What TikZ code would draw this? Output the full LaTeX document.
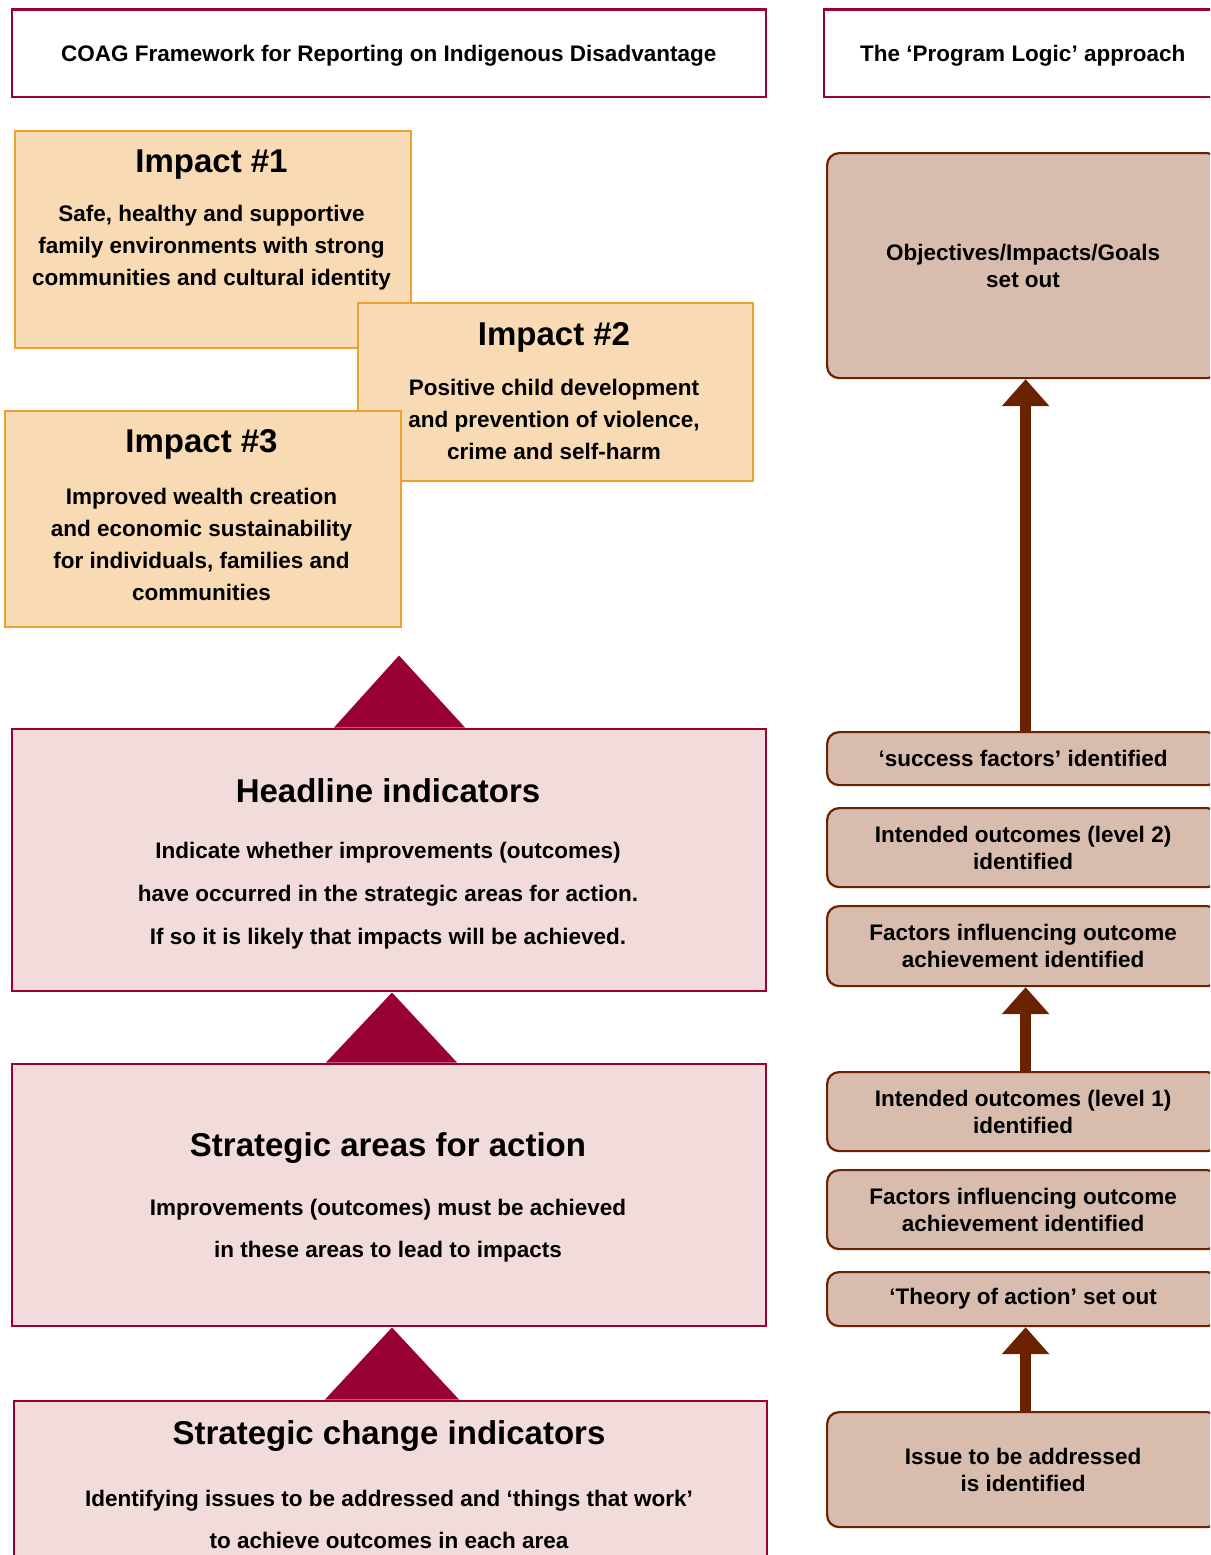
\documentclass[tikz,border=0pt]{standalone}
\usepackage{fontspec}
\setmainfont{Liberation Sans}
\usetikzlibrary{arrows.meta,calc}

\definecolor{crimson}{HTML}{990033}
\definecolor{pinkfill}{HTML}{F2DCDB}
\definecolor{peachfill}{HTML}{F8DBB4}
\definecolor{amberline}{HTML}{EEA030}
\definecolor{logicfill}{HTML}{D8BCAE}
\definecolor{umber}{HTML}{6B2200}

\newcommand{\txtsize}[1]{\fontsize{22.5}{#1}\selectfont\bfseries}
\newcommand{\ttlsize}{\fontsize{33}{38}\selectfont\bfseries}

\begin{document}
\begin{tikzpicture}[x=1pt,y=-1pt,
  header/.style={draw=crimson, line width=2.5pt, fill=white, inner sep=0pt,
    text depth=0pt, minimum height=87pt, anchor=north west, font=\txtsize{27}},
  impactbox/.style={draw=amberline, line width=2.5pt, fill=peachfill, inner sep=0pt,
    anchor=north west},
  levelbox/.style={draw=crimson, line width=2.5pt, fill=pinkfill, inner sep=0pt,
    anchor=north west},
  title/.style={font=\ttlsize, inner sep=0pt, yshift=-3pt},
  bodytext/.style={font=\txtsize{#1}, align=center, inner sep=0pt, yshift=-3pt},
  bodytext/.default=32,
  logicbox/.style={draw=umber, line width=2.2pt, fill=logicfill, rounded corners=12pt,
    minimum width=392pt, inner sep=0pt, anchor=north west, align=center,
    font=\txtsize{27}},
  uptri/.style={fill=crimson},
  bigarrow/.style={draw=umber, line width=11pt,
    -{Triangle[width=46pt,length=27pt]}}
]
\useasboundingbox (0,0) rectangle (1210,1555);
\clip (0,0) rectangle (1210,1555);

% column headings
\node[header, minimum width=754pt] (hcoag) at (10.5,8.5)
  {COAG Framework for Reporting on Indigenous Disadvantage};
\node[header, minimum width=398pt] (hlogic) at (822.5,8.5)
  {The ‘Program Logic’ approach};

% impact boxes, each drawn over the previous one
\node[impactbox, minimum width=396pt, minimum height=217pt] (imp1) at (13.5,129.5) {};
\node[title] (imp1t) at (211.5,162) {Impact \#1};
\node[bodytext] (imp1b) at (211.5,245)
  {Safe, healthy and supportive\\family environments with strong\\communities and cultural identity};

\node[impactbox, minimum width=395pt, minimum height=178pt] (imp2) at (356.5,301.5) {};
\node[title] (imp2t) at (554,334) {Impact \#2};
\node[bodytext] (imp2b) at (554,416)
  {Positive child development\\and prevention of violence,\\crime and self-harm};

\node[impactbox, minimum width=396pt, minimum height=216pt] (imp3) at (3.5,409.5) {};
\node[title] (imp3t) at (201.5,441) {Impact \#3};
\node[bodytext] (imp3b) at (201.5,541)
  {Improved wealth creation\\and economic sustainability\\for individuals, families and\\communities};

% indicator levels
\node[levelbox, minimum width=754pt, minimum height=262pt] (head) at (10.5,727.5) {};
\node[title] (headt) at (388,788) {Headline indicators};
\node[bodytext=43] (headb) at (388,893)
  {Indicate whether improvements (outcomes)\\have occurred in the strategic areas for action.\\If so it is likely that impacts will be achieved.};

\node[levelbox, minimum width=754pt, minimum height=262pt] (areas) at (10.5,1062.5) {};
\node[title] (areast) at (388,1145) {Strategic areas for action};
\node[bodytext=42] (areasb) at (388,1228)
  {Improvements (outcomes) must be achieved\\in these areas to lead to impacts};

\node[levelbox, minimum width=753pt, minimum height=200pt] (change) at (12.5,1399.5) {};
\node[title] (changet) at (389,1433) {Strategic change indicators};
\node[bodytext=42] (changeb) at (389,1516)
  {Identifying issues to be addressed and ‘things that work’\\to achieve outcomes in each area};

% upward triangles between the levels
\fill[uptri] ($(head.north west)+(323.5,0)$) -- ($(head.north west)+(388.5,-72)$)
  -- ($(head.north west)+(454.5,0)$) -- cycle;
\fill[uptri] ($(areas.north west)+(315.5,0)$) -- ($(areas.north west)+(381.5,-70)$)
  -- ($(areas.north west)+(446.5,0)$) -- cycle;
\fill[uptri] ($(change.north west)+(312.5,0)$) -- ($(change.north west)+(379.5,-72)$)
  -- ($(change.north west)+(446.5,0)$) -- cycle;

% program logic steps
\node[logicbox, minimum height=225pt] (obj) at (826,152)
  {Objectives/Impacts/Goals\\set out};
\node[logicbox, minimum height=53pt] (succ) at (826,731)
  {‘success factors’ identified};
\node[logicbox, minimum height=79pt] (lvl2) at (826,807)
  {Intended outcomes (level 2)\\identified};
\node[logicbox, minimum height=80pt] (fac2) at (826,905)
  {Factors influencing outcome\\achievement identified};
\node[logicbox, minimum height=79pt] (lvl1) at (826,1071)
  {Intended outcomes (level 1)\\identified};
\node[logicbox, minimum height=79pt] (fac1) at (826,1169)
  {Factors influencing outcome\\achievement identified};
\node[logicbox, minimum height=54pt] (theory) at (826,1271)
  {‘Theory of action’ set out};
\node[logicbox, minimum height=115pt] (issue) at (826,1411)
  {Issue to be addressed\\is identified};

\draw[bigarrow] ([xshift=2.5pt]succ.north) -- ([xshift=2.5pt]obj.south);
\draw[bigarrow] ([xshift=2.5pt]lvl1.north) -- ([xshift=2.5pt]fac2.south);
\draw[bigarrow] ([xshift=2.5pt]issue.north) -- ([xshift=2.5pt]theory.south);
\end{tikzpicture}
\end{document}
